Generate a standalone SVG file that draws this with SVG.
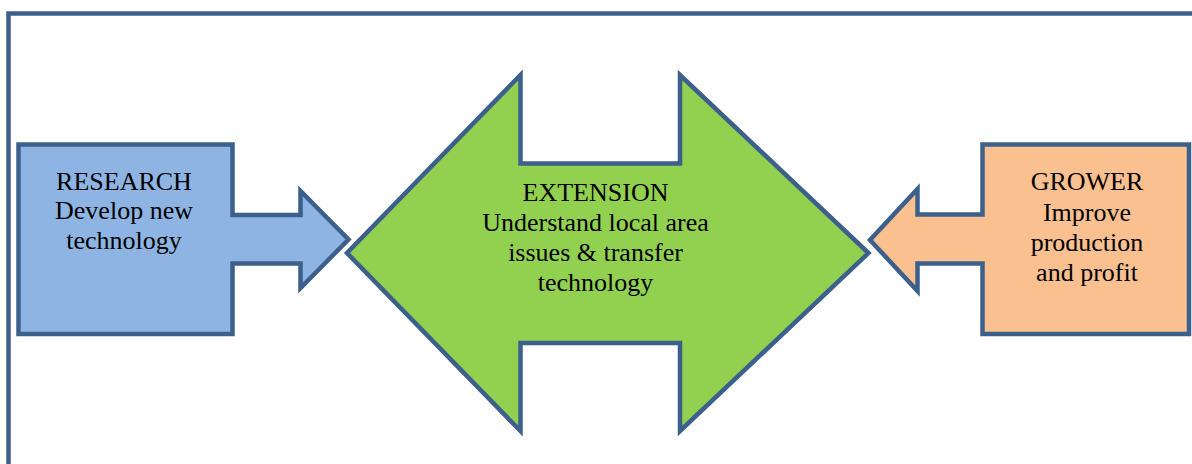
<svg xmlns="http://www.w3.org/2000/svg" width="1192" height="464" viewBox="0 0 1192 464">
  <style>
    .shape { stroke: #3d5f8b; stroke-width: 4.5; stroke-linejoin: miter; stroke-miterlimit: 10; }
    .label { font-size: 26px; fill: #000; text-anchor: middle; }
  </style>
  <rect x="0" y="0" width="1192" height="464" fill="#ffffff"/>

  <!-- outer frame, continuing past the right and bottom edges -->
  <rect id="frame" x="8.5" y="13.5" width="1300" height="600" fill="none" stroke="#3d5f8b" stroke-width="4.5"/>

  <g id="connectors"></g>

  <g font-family="'Liberation Serif', 'DejaVu Serif', serif">
    <!-- research: box with right-pointing arrow -->
    <g id="research">
      <path class="shape" fill="#8eb4e3"
            d="M18.5 144.5 H232.5 V215 H300.5 V191 L348.5 239.5 L300.5 288 V263.5 H232.5 V334 H18.5 Z"/>
      <text class="label" x="124" y="189.5">RESEARCH</text>
      <text class="label" x="124" y="219">Develop new</text>
      <text class="label" x="124" y="248.5">technology</text>
    </g>

    <!-- extension: four-way arrow -->
    <g id="extension">
      <path class="shape" fill="#92d050"
            d="M520.5 75 V163.5 H680 V75 L868.5 253 L680 431 V343 H520.5 V431 L347 253 Z"/>
      <text class="label" x="595.5" y="200.5">EXTENSION</text>
      <text class="label" x="595.5" y="230.5">Understand local area</text>
      <text class="label" x="595.5" y="260.5">issues &amp; transfer</text>
      <text class="label" x="595.5" y="290.5">technology</text>
    </g>

    <!-- grower: box with left-pointing arrow -->
    <g id="grower">
      <path class="shape" fill="#fac090"
            d="M1189 144.5 H982.5 V214.5 H917.5 V189 L870 240 L917.5 291 V263.5 H982.5 V334 H1189 Z"/>
      <text class="label" x="1087" y="190">GROWER</text>
      <text class="label" x="1087" y="220.5">Improve</text>
      <text class="label" x="1087" y="250.5">production</text>
      <text class="label" x="1087" y="280.5">and profit</text>
    </g>
  </g>
</svg>
